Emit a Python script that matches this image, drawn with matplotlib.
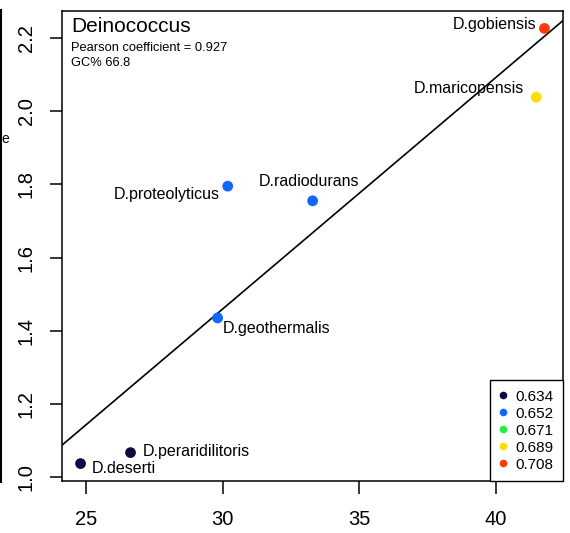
import numpy as np
import matplotlib
matplotlib.use("Agg")
import matplotlib.pyplot as plt
from matplotlib.lines import Line2D

plt.rcParams['font.family'] = ['Liberation Sans', 'DejaVu Sans']

# data
species = ["D.deserti", "D.peraridilitoris", "D.geothermalis", "D.proteolyticus",
           "D.radiodurans", "D.maricopensis", "D.gobiensis"]
gc_x = [24.79, 26.62, 29.81, 30.18, 33.29, 41.48, 41.78]
val_y = [1.037, 1.067, 1.435, 1.795, 1.755, 2.038, 2.226]
gc_bin = [0, 0, 1, 1, 1, 3, 4]
bin_labels = ["0.634", "0.652", "0.671", "0.689", "0.708"]
bin_colors = ["#0b0b42", "#1166ff", "#22ee44", "#ffdd00", "#ff3a0a"]
pearson = "0.927"
gc_pct = "66.8"

# label placement (pixel offsets, ha)
lab_pos = [(11, -5, 'left'), (12, 1, 'left'), (5, -11, 'left'), (-8, -8, 'right'),
           (-4, 19, 'center'), (-12, 9, 'right'), (-8, 4, 'right')]

fig = plt.figure(figsize=(5.7, 5.33), dpi=100)
ax = fig.add_axes([62/570, 52/533, 501/570, 470/533])

x = np.array(gc_x)
y = np.array(val_y)
ax.scatter(x, y, s=60, c=[bin_colors[b] for b in gc_bin], zorder=3, linewidths=0)

for name, xi, yi, (dx, dy, ha) in zip(species, x, y, lab_pos):
    ax.annotate(name, (xi, yi), xytext=(dx*0.72, dy*0.72), textcoords='offset points',
                ha=ha, va='center', fontsize=11.5)

# R-style 4% padding
rx = x.max() - x.min()
ry = y.max() - y.min()
ax.set_xlim(x.min() - 0.04*rx, x.max() + 0.04*rx)
ax.set_ylim(y.min() - 0.04*ry, y.max() + 0.04*ry)

slope, icpt = np.polyfit(x, y, 1)
xl = np.array(ax.get_xlim())
ax.plot(xl, icpt + slope*xl, color='black', lw=1.2, zorder=2)

ax.text(0.018, 0.988, "Deinococcus", transform=ax.transAxes, fontsize=15, va='top')
ax.text(0.018, 0.935, "Pearson coefficient = " + pearson, transform=ax.transAxes, fontsize=9.3, va='top')
ax.text(0.018, 0.902, "GC% " + gc_pct, transform=ax.transAxes, fontsize=9.3, va='top')

ax.set_xticks([25, 30, 35, 40])
ax.set_yticks([1.0, 1.2, 1.4, 1.6, 1.8, 2.0, 2.2])
ax.set_yticklabels(["1.0", "1.2", "1.4", "1.6", "1.8", "2.0", "2.2"], rotation=90, va='center')
ax.tick_params(axis='both', direction='out', length=9, width=1.1, labelsize=14.5)
ax.tick_params(axis='x', pad=12)
ax.tick_params(axis='y', pad=10)
for sp in ax.spines.values():
    sp.set_linewidth(1.1)

handles = [Line2D([], [], ls='', marker='o', ms=5.5, mec='none', mfc=c) for c in bin_colors]
leg = ax.legend(handles, bin_labels, loc='lower right', borderaxespad=0, fontsize=11,
                frameon=True, fancybox=False, edgecolor='black', framealpha=1,
                handlelength=0.6, handletextpad=0.5, labelspacing=0.2, borderpad=0.6)
leg.get_frame().set_linewidth(1.0)

# edge of the neighbouring panel
fig.add_artist(Line2D([1/570, 1/570], [51/533, 523/533], color='black', lw=1.5))
fig.text(5/570, 1 - 139/533, "e", fontsize=10, ha='center', va='center')

fig.savefig("out.png", dpi=100)
